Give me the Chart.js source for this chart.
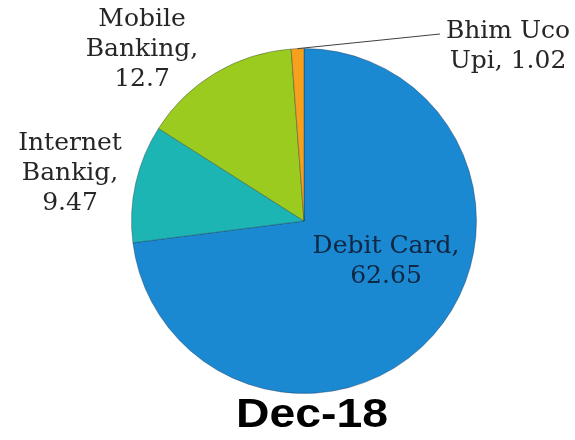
<!DOCTYPE html>
<html>
<head>
<meta charset="utf-8">
<style>
  html, body { margin: 0; padding: 0; background: #fff; }
  #chart { display: block; }
</style>
<script src="https://cdn.jsdelivr.net/npm/chart.js@4/dist/chart.umd.min.js"></script>
</head>
<body>
<canvas id="chart" width="575" height="440"></canvas>
<script>
// Channel shares, Dec-18
const categories = ['Debit Card', 'Internet Bankig', 'Mobile Banking', 'Bhim Uco Upi'];
const shares = [62.65, 9.47, 12.7, 1.02];
const periodTitle = 'Dec-18';

const sliceColors = ['#1b88d2', '#1db5b3', '#9bcb1e', '#f6a01e'];

// label placement, relative to the pie centre (px), plus wrap width
const labelSpots = [
  { dx: 82, dy: 32, wrap: 170, color: '#0f2742' },
  { dx: -234, dy: -71, wrap: 120, color: '#262626' },
  { dx: -162, dy: -195, wrap: 130, color: '#262626' },
  { dx: 204, dy: -183, wrap: 135, color: '#262626', leader: { dx: 136, dy: -187 } }
];

const LABEL_FONT = '25px "DejaVu Serif", serif';
const LINE_H = 30;

function wrapText(ctx, text, maxW) {
  const words = text.split(' ');
  const lines = [];
  let cur = '';
  words.forEach(w => {
    const test = cur ? cur + ' ' + w : w;
    if (cur && ctx.measureText(test).width > maxW) {
      lines.push(cur);
      cur = w;
    } else {
      cur = test;
    }
  });
  if (cur) lines.push(cur);
  return lines;
}

const sliceLabels = {
  id: 'sliceLabels',
  afterDraw(chart) {
    const ctx = chart.ctx;
    const meta = chart.getDatasetMeta(0);
    ctx.save();
    ctx.font = LABEL_FONT;
    ctx.textAlign = 'center';
    ctx.textBaseline = 'alphabetic';
    meta.data.forEach((arc, i) => {
      const spot = labelSpots[i];
      const cx = arc.x, cy = arc.y;

      if (spot.leader) {
        const mid = (arc.startAngle + arc.endAngle) / 2;
        ctx.strokeStyle = '#404040';
        ctx.lineWidth = 1;
        ctx.beginPath();
        ctx.moveTo(cx + Math.cos(mid) * arc.outerRadius, cy + Math.sin(mid) * arc.outerRadius);
        ctx.lineTo(cx + spot.leader.dx, cy + spot.leader.dy);
        ctx.stroke();
      }

      const text = categories[i] + ', ' + shares[i];
      const lines = wrapText(ctx, text, spot.wrap);
      ctx.fillStyle = spot.color;
      lines.forEach((ln, k) => {
        ctx.fillText(ln, cx + spot.dx, cy + spot.dy + k * LINE_H);
      });
    });

    // period caption under the pie
    ctx.font = 'bold 41px "Liberation Sans", Arial, sans-serif';
    ctx.fillStyle = '#000';
    ctx.translate(312, 427);
    ctx.scale(1.13, 1);
    ctx.fillText(periodTitle, 0, 0);
    ctx.restore();
  }
};

new Chart(document.getElementById('chart'), {
  type: 'pie',
  data: {
    labels: categories,
    datasets: [{
      data: shares,
      backgroundColor: sliceColors,
      borderColor: 'rgba(20, 40, 60, 0.35)',
      borderWidth: 1
    }]
  },
  options: {
    responsive: false,
    animation: false,
    layout: { padding: { left: 131, right: 98, top: 47, bottom: 45 } },
    plugins: {
      legend: { display: false },
      tooltip: { enabled: false }
    }
  },
  plugins: [sliceLabels]
});
</script>
</body>
</html>
